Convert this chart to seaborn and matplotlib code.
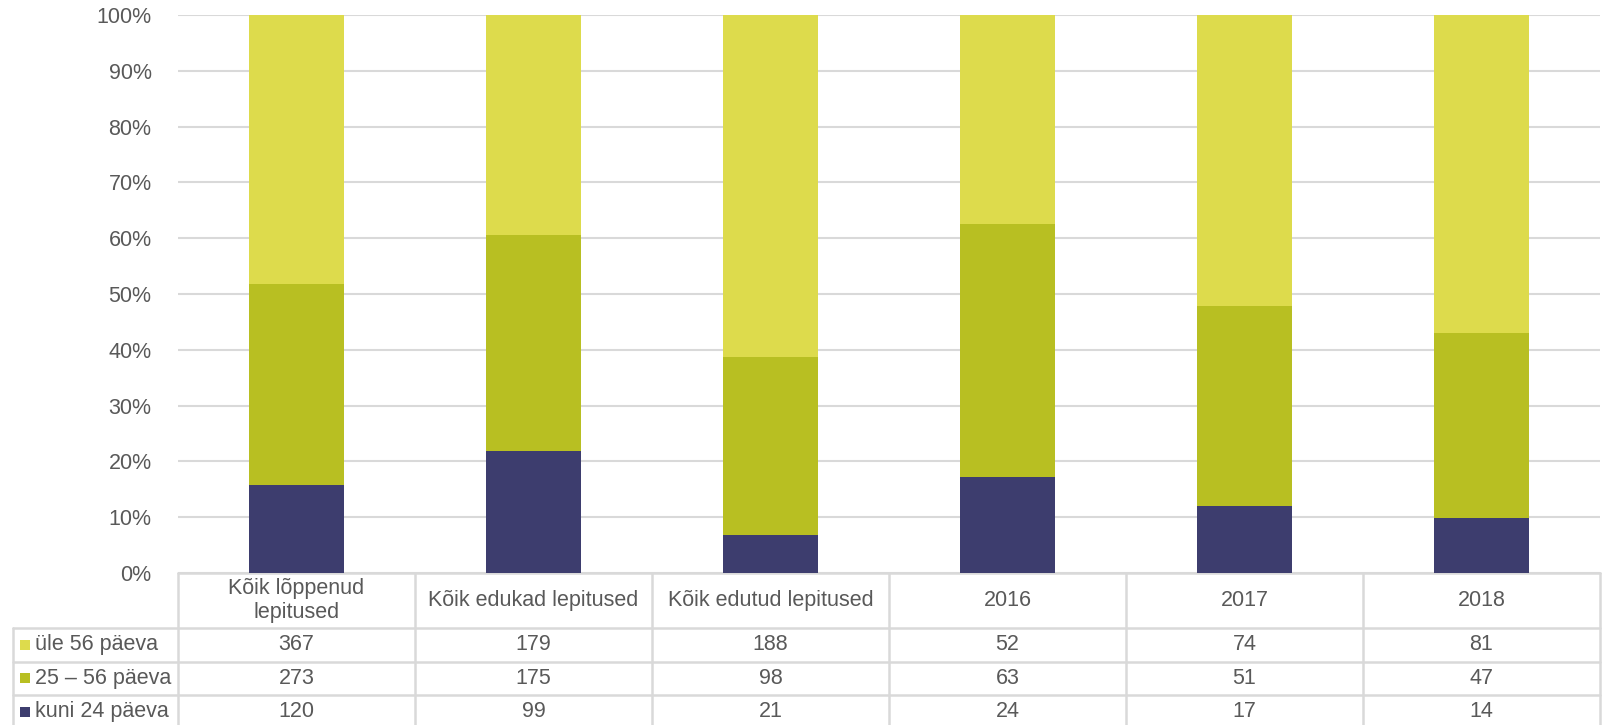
import numpy as np
import pandas as pd
import matplotlib
matplotlib.use("Agg")
import matplotlib.pyplot as plt
import seaborn as sns

categories = ["Kõik lõppenud\nlepitused", "Kõik edukad lepitused", "Kõik edutud lepitused",
              "2016", "2017", "2018"]
series_names = ["üle 56 päeva", "25 – 56 päeva", "kuni 24 päeva"]
ule_56 = [367, 179, 188, 52, 74, 81]
p25_56 = [273, 175, 98, 63, 51, 47]
kuni_24 = [120, 99, 21, 24, 17, 14]
colors = ["#DDDB4C", "#B8BF22", "#3D3D6E"]

sns.set_theme(style="white")
plt.rcParams["font.family"] = ["Liberation Sans", "DejaVu Sans"]
text_color = "#595959"
line_color = "#D9D9D9"
fs = 15.5

df = pd.DataFrame({"cat": categories, "ule": ule_56, "mid": p25_56, "kuni": kuni_24})
total = df["ule"] + df["mid"] + df["kuni"]
df["top"] = 100.0
df["midtop"] = (df["mid"] + df["kuni"]) / total * 100
df["kunitop"] = df["kuni"] / total * 100

fig = plt.figure(figsize=(16.02, 7.25), dpi=100)
ax = fig.add_axes([178 / 1602, 1 - 573 / 725, 1422 / 1602, 558 / 725])

for col, c in zip(["top", "midtop", "kunitop"], colors):
    sns.barplot(data=df, x="cat", y=col, color=c, width=0.4, saturation=1, ax=ax,
                linewidth=0, edgecolor="none", zorder=3)

ax.set_xlim(-0.5, 5.5)
ax.set_ylim(0, 100)
ax.set_yticks(np.arange(0, 101, 10))
ax.set_yticklabels([f"{v}%" for v in range(0, 101, 10)], fontsize=fs, color=text_color)
ax.tick_params(axis="y", length=0, pad=19)
ax.set_xticks([])
ax.set_xlabel("")
ax.set_ylabel("")
ax.yaxis.grid(True, color=line_color, linewidth=1.5, zorder=0)
ax.set_axisbelow(True)
for s in ax.spines.values():
    s.set_visible(False)

# data table below the plot
tr = ax.transAxes
header_h = 55 / 558
row_h = 33.5 / 558
left_col = -165 / 1422
n = len(categories)
lw = 1.8
ax.plot([0, 1], [0, 0], transform=tr, color=line_color, lw=lw, clip_on=False)
bottom = -(header_h + 3 * row_h)
for k in range(4):
    y = -(header_h + k * row_h)
    ax.plot([left_col, 1], [y, y], transform=tr, color=line_color, lw=lw, clip_on=False)
for i in range(n + 1):
    ax.plot([i / n, i / n], [0, bottom], transform=tr, color=line_color, lw=lw, clip_on=False)
ax.plot([left_col, left_col], [-header_h, bottom], transform=tr, color=line_color, lw=lw,
        clip_on=False)

for i, cat in enumerate(categories):
    ax.text((i + 0.5) / n, -header_h / 2, cat, transform=tr, ha="center", va="center",
            fontsize=fs, color=text_color, linespacing=1.15)

rows = [ule_56, p25_56, kuni_24]
for r, (name, vals, c) in enumerate(zip(series_names, rows, colors)):
    yc = -(header_h + (r + 0.5) * row_h)
    ax.scatter([left_col + 12 / 1422], [yc], transform=tr, marker="s", s=55, color=c,
               linewidths=0, clip_on=False, zorder=5)
    ax.text(left_col + 22 / 1422, yc, name, transform=tr, ha="left", va="center",
            fontsize=fs, color=text_color)
    for i, v in enumerate(vals):
        ax.text((i + 0.5) / n, yc, str(v), transform=tr, ha="center", va="center",
                fontsize=fs, color=text_color)

fig.savefig("out.png", dpi=100)
